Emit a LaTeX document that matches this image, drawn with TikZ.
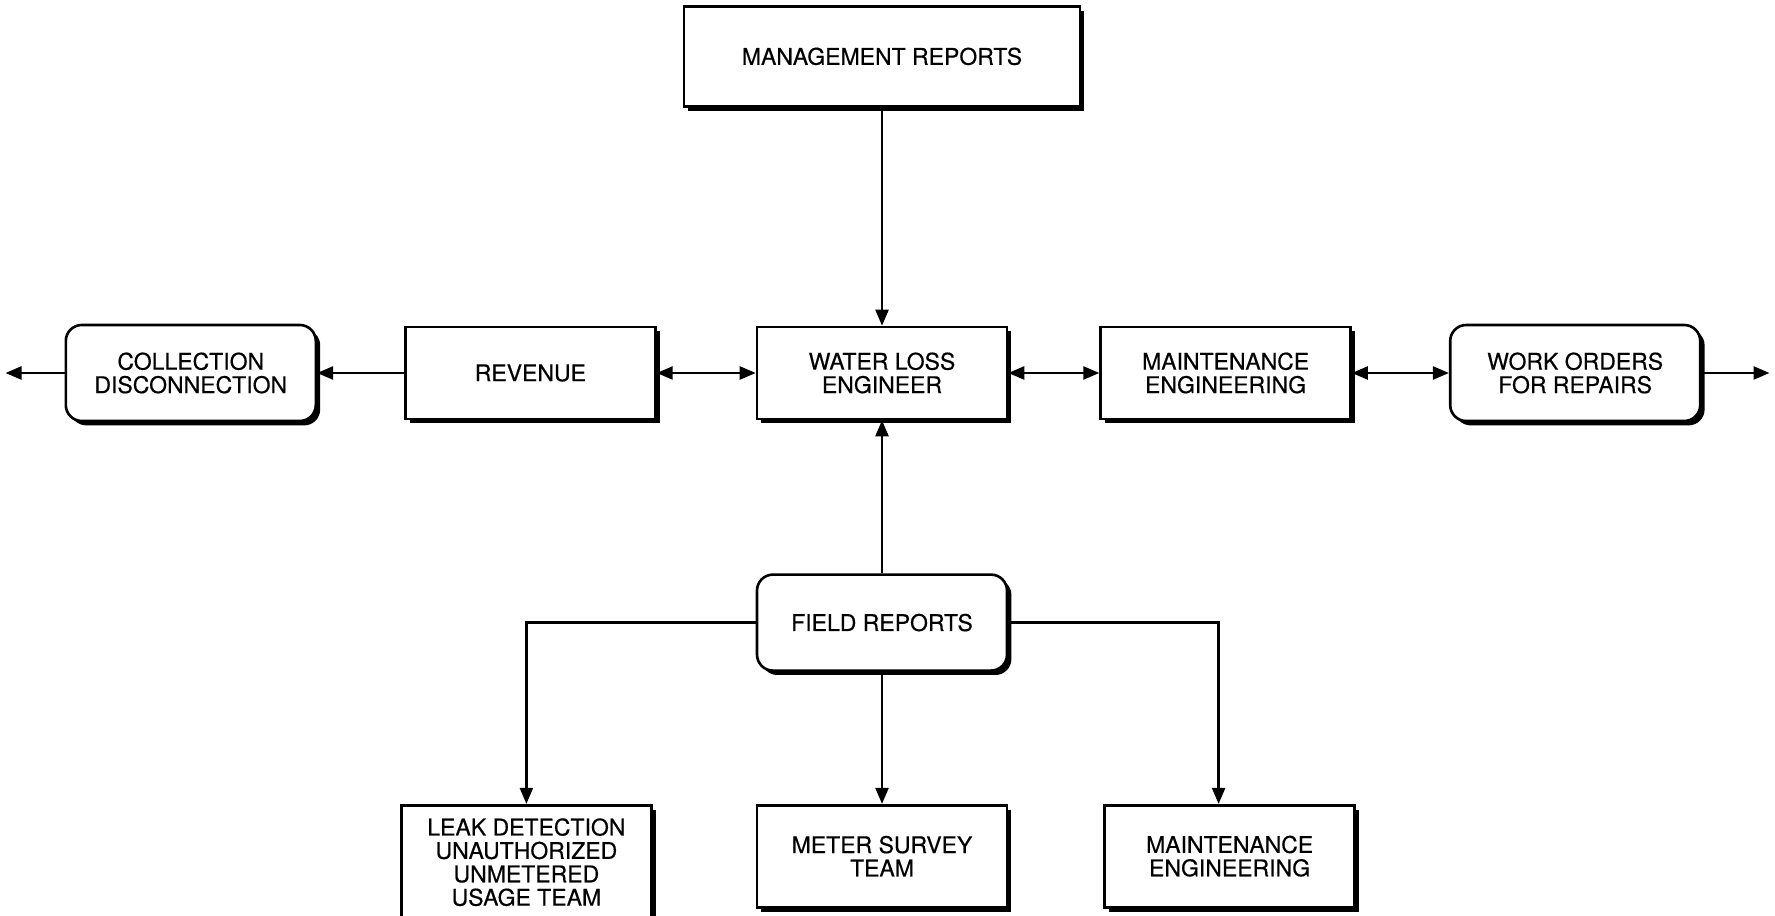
\documentclass[tikz,border=0pt]{standalone}
\usepackage{fontspec}
\setmainfont{TeX Gyre Heros}
\newfontfamily\boxfont{TeX Gyre Heros}[BoldFont={TeX Gyre Heros}, BoldFeatures={FakeBold=0.4}]
\usetikzlibrary{positioning,arrows.meta,shadows}

\begin{document}
\begin{tikzpicture}[
  x=0.5pt, y=0.5pt,
  box/.style={rectangle, draw, line width=1.3pt, fill=white, minimum width=125pt,
    minimum height=46pt, align=center, inner sep=2pt,
    font=\boxfont\bfseries\fontsize{11.5}{11.7}\selectfont,
    drop shadow={shadow xshift=2.2pt, shadow yshift=-2.2pt, fill=black, opacity=1}},
  rbox/.style={box, rounded corners=8pt, minimum height=48pt},
  arr/.style={-{Triangle[length=8pt,width=6.5pt]}, line width=1.2pt},
  dbl/.style={{Triangle[length=8pt,width=6.5pt]}-{Triangle[length=8pt,width=6.5pt]}, line width=1.2pt},
]
  \useasboundingbox (0,0) rectangle (1775,915);

  % Middle row
  \node[box] (wle) at (882,542) {WATER LOSS\\ENGINEER};
  \node[box, minimum width=198pt, minimum height=50pt, above=109pt of wle] (mgmt) {MANAGEMENT REPORTS};
  \node[box, left=49.5pt of wle] (rev) {REVENUE};
  \node[rbox, left=43.5pt of rev] (coll) {COLLECTION\\DISCONNECTION};
  \node[box, right=45.5pt of wle] (maint) {MAINTENANCE\\ENGINEERING};
  \node[rbox, right=48.5pt of maint] (work) {WORK ORDERS\\FOR REPAIRS};
  \coordinate[left=29.5pt of coll.west] (collout);
  \coordinate[right=34pt of work.east] (workout);

  % Field reports and teams
  \node[rbox, below=76.5pt of wle] (field) {FIELD REPORTS};
  \node[box, minimum height=51pt, below=66pt of field] (meter) {METER SURVEY\\TEAM};
  \node[box, minimum height=57pt, left=51.5pt of meter.north west, anchor=north east] (leak)
    {LEAK DETECTION\\UNAUTHORIZED\\UNMETERED\\USAGE TEAM};
  \node[box, minimum height=51pt, right=47.5pt of meter.north east, anchor=north west] (fieldmaint)
    {MAINTENANCE\\ENGINEERING};

  % Connectors
  \draw[arr] (mgmt) -- (wle);
  \draw[dbl] (rev) -- (wle);
  \draw[arr] (rev) -- (coll);
  \draw[arr] (coll) -- (collout);
  \draw[dbl] (wle) -- (maint);
  \draw[dbl] (maint) -- (work);
  \draw[arr] (work) -- (workout);
  \draw[arr] (field) -- (wle);
  \draw[arr] (field.west) -| (leak.north);
  \draw[arr] (field) -- (meter);
  \draw[arr] (field.east) -| ([xshift=-5.5pt]fieldmaint.north);
\end{tikzpicture}
\end{document}
